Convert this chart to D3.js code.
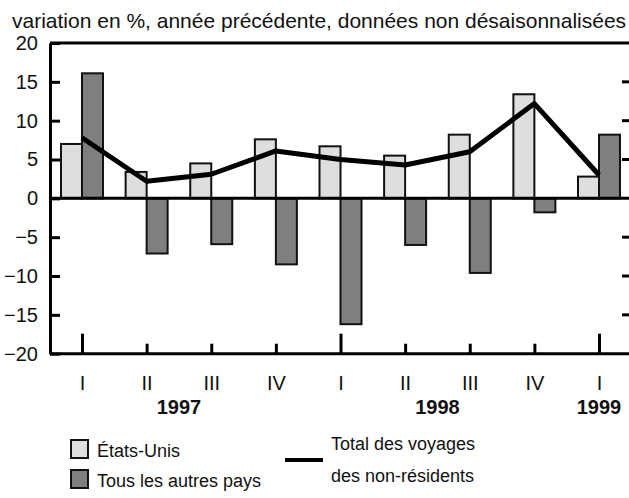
<!DOCTYPE html>
<html>
<head>
<meta charset="utf-8">
<script src="https://cdn.jsdelivr.net/npm/d3@7"></script>
<style>
  body { margin: 0; background: #fff; }
  text { font-family: "Liberation Sans", Arial, sans-serif; fill: #111; }
</style>
</head>
<body>
<div id="chart"></div>
<script>
// quarterly data
var categories = ["1997 I", "1997 II", "1997 III", "1997 IV", "1998 I", "1998 II", "1998 III", "1998 IV", "1999 I"];
var quarterLabels = ["I", "II", "III", "IV", "I", "II", "III", "IV", "I"];
var usValues = [7.0, 3.4, 4.5, 7.6, 6.7, 5.5, 8.2, 13.4, 2.8];
var otherValues = [16.1, -7.1, -5.9, -8.5, -16.2, -6.0, -9.6, -1.8, 8.2];
var totalValues = [7.8, 2.2, 3.1, 6.1, 5.0, 4.3, 6.0, 12.2, 3.0];
var years = ["1997", "1998", "1999"];
var yearFrom = ["1997 II", "1998 II", "1999 I"];
var yearTo = ["1997 III", "1998 III", "1999 I"];
var yTicks = [20, 15, 10, 5, 0, -5, -10, -15, -20];

var width = 629, height = 498;
var margin = {top: 43, right: 0, bottom: 145, left: 50};
var plotBottom = height - margin.bottom;

var svg = d3.select("#chart")
  .append("svg")
    .attr("width", width)
    .attr("height", height);

var x = d3.scalePoint()
  .domain(categories)
  .range([82, 599]);

var y = d3.scaleLinear()
  .domain([-20, 20])
  .range([plotBottom + 0.7, margin.top]);

var barW = 21;
var light = "#dedede", dark = "#7f7f7f";

// title
svg.append("text")
  .attr("x", 12)
  .attr("y", 28)
  .style("font-size", "21px")
  .text("variation en %, année précédente, données non désaisonnalisées");

// bars
svg.selectAll("rect.us")
  .data(usValues)
  .enter()
  .append("rect")
  .attr("class", "us")
  .attr("x", function(d, i) { return x(categories[i]) - barW; })
  .attr("y", function(d) { return y(Math.max(d, 0)); })
  .attr("width", barW)
  .attr("height", function(d) { return Math.abs(y(d) - y(0)); })
  .style("fill", light)
  .style("stroke", "#111")
  .style("stroke-width", 2);

svg.selectAll("rect.other")
  .data(otherValues)
  .enter()
  .append("rect")
  .attr("class", "other")
  .attr("x", function(d, i) { return x(categories[i]); })
  .attr("y", function(d) { return y(Math.max(d, 0)); })
  .attr("width", barW)
  .attr("height", function(d) { return Math.abs(y(d) - y(0)); })
  .style("fill", dark)
  .style("stroke", "#111")
  .style("stroke-width", 2);

// frame lines: top, zero, bottom
[20, 0, -20].forEach(function(v) {
  svg.append("line")
    .attr("x1", margin.left).attr("x2", width)
    .attr("y1", y(v)).attr("y2", y(v))
    .style("stroke", "#000")
    .style("stroke-width", 3);
});

// Y axis left
var yAxis = svg.append("g")
  .attr("transform", "translate(" + margin.left + ",0)")
  .call(d3.axisLeft(y).tickValues(yTicks).tickSizeInner(-10).tickSizeOuter(0).tickPadding(12));
yAxis.select(".domain").style("stroke", "#000").style("stroke-width", 3);
yAxis.selectAll(".tick line").style("stroke", "#000").style("stroke-width", 3);
yAxis.selectAll(".tick text")
  .style("font-size", "20px")
  .style("font-family", "Liberation Sans, Arial, sans-serif")
  .attr("fill", "#111");

// right ticks
svg.append("g")
  .selectAll("line")
  .data(yTicks.filter(function(d) { return d % 20 !== 0 && d !== 0; }))
  .enter()
  .append("line")
  .attr("x1", width - 7).attr("x2", width)
  .attr("y1", function(d) { return y(d); })
  .attr("y2", function(d) { return y(d); })
  .style("stroke", "#000")
  .style("stroke-width", 3);

// X axis
var xAxis = svg.append("g")
  .attr("transform", "translate(0," + y(-20) + ")")
  .call(d3.axisBottom(x).tickSizeOuter(0).tickPadding(16)
    .tickFormat(function(d, i) { return quarterLabels[i]; }));
xAxis.select(".domain").remove();
xAxis.selectAll(".tick line")
  .attr("y2", function(d, i) { return quarterLabels[i] === "I" ? -20 : -10; })
  .style("stroke", "#000")
  .style("stroke-width", 3);
xAxis.selectAll(".tick text")
  .style("font-size", "20px")
  .style("font-family", "Liberation Sans, Arial, sans-serif")
  .attr("fill", "#111");

// year labels
svg.selectAll("text.year")
  .data(years)
  .enter()
  .append("text")
  .attr("class", "year")
  .attr("x", function(d, i) { return (x(yearFrom[i]) + x(yearTo[i])) / 2; })
  .attr("y", 414)
  .attr("text-anchor", "middle")
  .style("font-size", "20px")
  .style("font-weight", "bold")
  .text(function(d) { return d; });

// total line
var line = d3.line()
  .x(function(d, i) { return x(categories[i]); })
  .y(function(d) { return y(d); });

svg.append("path")
  .datum(totalValues)
  .attr("d", line)
  .style("fill", "none")
  .style("stroke", "#000")
  .style("stroke-width", 5)
  .style("stroke-linejoin", "round");

// legend
var legend = svg.append("g");
legend.append("rect")
  .attr("x", 71).attr("y", 440).attr("width", 17).attr("height", 18)
  .style("fill", light).style("stroke", "#111").style("stroke-width", 2);
legend.append("text")
  .attr("x", 97).attr("y", 457)
  .style("font-size", "18px")
  .text("États-Unis");
legend.append("rect")
  .attr("x", 71).attr("y", 470).attr("width", 17).attr("height", 18)
  .style("fill", dark).style("stroke", "#111").style("stroke-width", 2);
legend.append("text")
  .attr("x", 97).attr("y", 487)
  .style("font-size", "18px")
  .text("Tous les autres pays");
legend.append("line")
  .attr("x1", 285).attr("x2", 323)
  .attr("y1", 460).attr("y2", 460)
  .style("stroke", "#000").style("stroke-width", 4);
legend.append("text")
  .attr("x", 331).attr("y", 450)
  .style("font-size", "18px")
  .text("Total des voyages");
legend.append("text")
  .attr("x", 331).attr("y", 482)
  .style("font-size", "18px")
  .text("des non-résidents");
</script>
</body>
</html>
